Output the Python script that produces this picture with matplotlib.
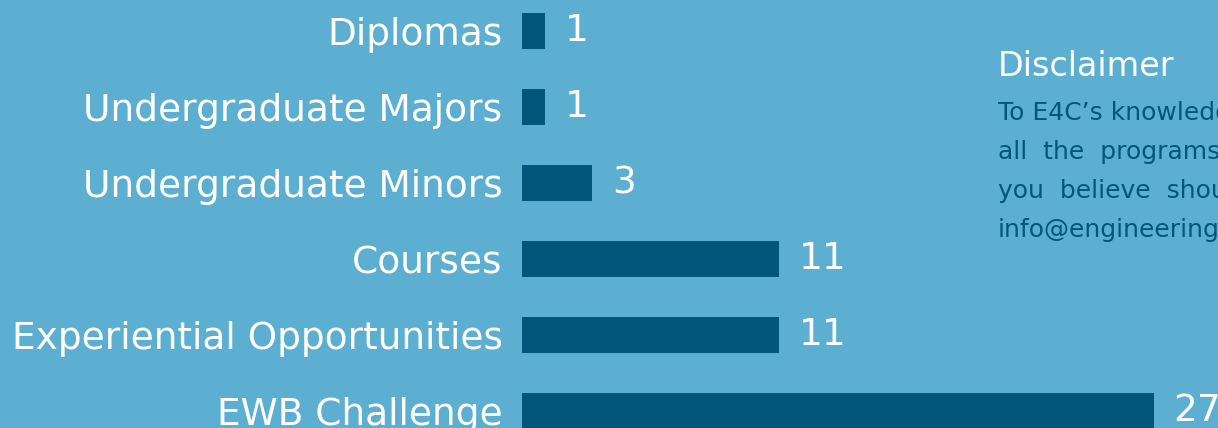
import matplotlib
matplotlib.use('Agg')
import matplotlib.pyplot as plt

categories = ['Diplomas', 'Undergraduate Majors', 'Undergraduate Minors',
              'Courses', 'Experiential Opportunities', 'EWB Challenge']
counts = [1, 1, 3, 11, 11, 27]

disclaimer_lines = [
    'To E4C\u2019s knowledge, this list contains',
    'all  the  programs  offered.  If  there  is  one',
    'you  believe  should  be  added,  email',
    'info@engineeringforchange.org',
]

bg = '#5DAFD1'
bar_col = '#01567C'
plt.rcParams['font.family'] = ['DejaVu Sans']

fig = plt.figure(figsize=(12.18, 4.28), dpi=100)
fig.patch.set_facecolor(bg)

W, H = 1218, 428
ax = fig.add_axes([522 / W, 0, 1 - 522 / W, 1])
ax.set_facecolor(bg)

y = list(range(len(categories)))
ax.barh(y, counts, height=0.47, color=bar_col)
ax.set_xlim(0, (W - 522) / 23.4)
ax.set_ylim(428 / 76 - 31 / 76, -31 / 76)

for i, c in enumerate(counts):
    ax.text(c + 0.85, i, str(c), color='white', fontsize=27,
            va='center', ha='left', clip_on=False)

ax.set_yticks(y)
ax.set_yticklabels(categories, color='white', fontsize=27)
ax.tick_params(axis='y', length=0, pad=14)
ax.set_xticks([])
for s in ax.spines.values():
    s.set_visible(False)

fig.text(998 / W, 1 - 76 / H, 'Disclaimer', color='white', fontsize=24,
         va='baseline', ha='left')
for k, line in enumerate(disclaimer_lines):
    fig.text(998 / W, 1 - (120 + 39 * k) / H, line, color=bar_col,
             fontsize=18, va='baseline', ha='left')

fig.savefig('out.png', dpi=100, facecolor=bg)
